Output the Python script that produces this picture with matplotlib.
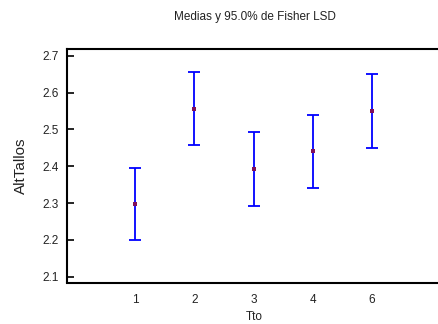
import matplotlib
matplotlib.use("Agg")
import matplotlib.pyplot as plt

plt.rcParams['font.family'] = ['Liberation Sans', 'DejaVu Sans']

# Data
groups = ["1", "2", "3", "4", "6"]
means = [2.297, 2.557, 2.392, 2.441, 2.550]
half_widths = [0.099, 0.099, 0.100, 0.099, 0.100]
y_ticks = [2.1, 2.2, 2.3, 2.4, 2.5, 2.6, 2.7]

fig = plt.figure(figsize=(4.38, 3.24), dpi=100)
ax = fig.add_axes([67 / 438, 1 - 282.5 / 324, 1 - 67 / 438 + 0.01, (282.5 - 49) / 324])

pos = list(range(1, len(groups) + 1))
ax.errorbar(pos, means, yerr=half_widths, fmt='none', ecolor='#0000ff',
            elinewidth=1.3, capsize=4.5, capthick=1.3)
ax.plot(pos, means, 's', color='#80105a', markersize=2.4, markeredgewidth=0, zorder=5)

ax.set_xlim(-0.16, 6.2)
ax.set_ylim(2.0837, 2.719)
ax.set_xticks(pos)
ax.set_xticklabels(groups)
ax.set_yticks(y_ticks)
ax.set_yticklabels([f"{v:.1f}" for v in y_ticks])

ax.tick_params(axis='x', length=0, pad=8, labelsize=8.5, colors='#222222')
ax.tick_params(axis='y', direction='in', length=5, width=1.2, labelsize=8.5,
               right=True, pad=6, labelcolor='#222222')
# right-hand ticks are much shorter than the left ones
for t in ax.yaxis.get_major_ticks():
    t.tick2line.set_markersize(2.5)

for s in ['left', 'bottom', 'top']:
    ax.spines[s].set_linewidth(1.5)
ax.spines['right'].set_visible(False)

ax.set_xlabel("Tto", fontsize=8.5, labelpad=4, color='#222222')
ax.set_ylabel("AltTallos", fontsize=11, labelpad=10, color='#222222')
fig.text(255 / 438, 1 - 17 / 324, "Medias y 95.0% de Fisher LSD",
         ha='center', va='center', fontsize=8.5, color='#222222')

fig.savefig("out.png", dpi=100)
